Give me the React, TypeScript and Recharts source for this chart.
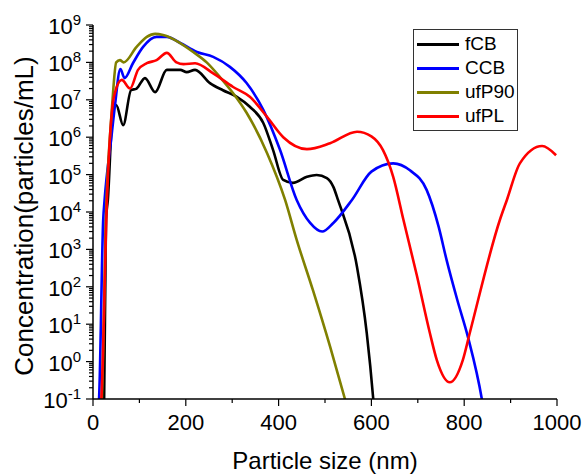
import { LineChart, Line, XAxis, YAxis, Legend } from "recharts";

const fCB = [
  [22, 0.05], [24, 0.1], [28, 6.2e3], [32, 2.1e4], [43, 5.5e6], [50, 7.2e6],
  [65, 2.1e6], [82, 1.8e7], [94, 2.0e7], [112, 3.8e7], [134, 1.6e7],
  [159, 6.3e7], [188, 6.3e7], [202, 5.5e7], [220, 6.3e7], [252, 2.8e7],
  [280, 1.8e7], [310, 1.2e7], [338, 6.5e6], [367, 2.4e6], [388, 4.6e5],
  [410, 7.2e4], [431, 6.0e4], [461, 8.7e4], [482, 9.8e4], [504, 8.1e4],
  [518, 4.7e4], [528, 2.1e4], [569, 340], [590, 5.8], [604, 0.1], [606, 0.05],
];

const CCB = [
  [11, 0.05], [13, 0.1], [22, 6.2e3], [25, 2.1e4], [39, 8.5e5], [47, 6.5e6],
  [59, 6.6e7], [68, 3.8e7], [86, 9.5e7], [108, 2.6e8], [137, 4.8e8],
  [159, 4.8e8], [188, 3.3e8], [224, 1.9e8], [259, 1.4e8], [295, 7.6e7],
  [331, 2.8e7], [367, 5.4e6], [403, 4.6e5], [439, 2.1e4], [468, 5.1e3],
  [494, 3.0e3], [518, 5.1e3], [558, 2.1e4], [600, 1.2e5], [647, 2.0e5],
  [683, 1.3e5], [719, 3.9e4], [745, 4.0e3], [762, 525], [785, 45],
  [808, 4.6], [838, 0.1], [842, 0.05],
];

const ufP90 = [
  [17.5, 0.05], [19, 0.1], [29, 2.1e4], [36, 8.5e5], [41, 6.5e6], [50, 1.0e8],
  [58, 1.15e8], [66, 1.0e8], [94, 2.6e8], [116, 4.8e8], [134, 5.8e8],
  [151, 5.4e8], [188, 3.3e8], [216, 1.9e8], [245, 1.0e8], [274, 4.0e7],
  [302, 1.5e7], [331, 4.5e6], [375, 3.8e5], [414, 2.1e4], [439, 1.8e3],
  [474, 81], [511, 2.5], [543, 0.1], [550, 0.05],
];

const ufPL = [
  [16, 0.05], [18, 0.1], [30, 2.0e4], [43, 8.5e6], [47, 1.5e7], [62, 3.4e7],
  [80, 2.0e7], [97, 6.3e7], [116, 9.5e7], [137, 1.15e8], [159, 1.8e8],
  [180, 1.0e8], [195, 9.0e7], [220, 9.5e7], [259, 5.1e7], [302, 2.2e7],
  [338, 1.2e7], [375, 3.5e6], [410, 1.0e6], [461, 4.8e5], [511, 6.9e5],
  [569, 1.4e6], [600, 1.05e6], [625, 4.5e5], [647, 8.7e4], [669, 6.2e3],
  [698, 200], [726, 5.8], [741, 1.1], [769, 0.28], [797, 1.1], [812, 5.8],
  [877, 6.2e3], [892, 2.1e4], [920, 2.0e5], [968, 5.8e5], [998, 3.3e5],
];

const seriesNames = ["fCB", "CCB", "ufP90", "ufPL"];
const seriesColors = ["#000000", "#0000ff", "#808000", "#ff0000"];
const seriesData = [fCB, CCB, ufP90, ufPL];

const xTicks = [0, 100, 200, 300, 400, 500, 600, 700, 800, 900, 1000];
const yPowers = [-1, 0, 1, 2, 3, 4, 5, 6, 7, 8, 9];

const yTicks: number[] = [];
yPowers.forEach((p) => {
  yTicks.push(Number(Math.pow(10, p).toPrecision(3)));
  if (p < 9) {
    for (let m = 2; m <= 9; m++) yTicks.push(Number((m * Math.pow(10, p)).toPrecision(3)));
  }
});

const FONT = "'Liberation Sans', Arial, sans-serif";

const YTick = (props: any) => {
  const { x, y, payload } = props;
  const p = Math.log10(payload.value);
  const major = Math.abs(p - Math.round(p)) < 1e-6;
  return (
    <g>
      <line x1={x} x2={x - (major ? 7 : 4)} y1={y} y2={y} stroke="#000" strokeWidth={1.2} />
      {major && (
        <text x={x - 12} y={y + 9} textAnchor="end" fontSize={22} fontFamily={FONT} fill="#000">
          10
          <tspan dy={-9} fontSize={15}>{Math.round(p)}</tspan>
        </text>
      )}
    </g>
  );
};

const XTick = (props: any) => {
  const { x, y, payload } = props;
  const major = payload.value % 200 === 0;
  return (
    <g>
      <line x1={x} x2={x} y1={y} y2={y + (major ? 7 : 4)} stroke="#000" strokeWidth={1.2} />
      {major && (
        <text x={x} y={y + 31} textAnchor="middle" fontSize={22} fontFamily={FONT} fill="#000">
          {payload.value}
        </text>
      )}
    </g>
  );
};

const YLabel = (props: any) => {
  const { viewBox } = props;
  const cx = viewBox.x + 33;
  const cy = viewBox.y + viewBox.height / 2 + 4;
  return (
    <text
      x={cx}
      y={cy}
      transform={`rotate(-90, ${cx}, ${cy})`}
      textAnchor="middle"
      fontSize={26}
      fontFamily={FONT}
      fill="#000"
    >
      Concentration(particles/mL)
    </text>
  );
};

const LegendBox = () => (
  <div
    style={{
      border: "1.3px solid #333",
      width: 103,
      padding: "2px 0",
      background: "#fff",
      fontFamily: FONT,
      fontSize: 19,
    }}
  >
    {seriesNames.map((name, i) => (
      <div key={name} style={{ display: "flex", alignItems: "center", height: 24 }}>
        <div style={{ width: 42, height: 3, background: seriesColors[i], marginLeft: 3, marginRight: 6 }} />
        <span>{name}</span>
      </div>
    ))}
  </div>
);

export default function App() {
  return (
    <div style={{ position: "absolute", left: 0, top: 0, background: "#fff" }}>
      <LineChart width={587} height={475} margin={{ top: 25, right: 30, bottom: 0, left: 0 }}>
        <XAxis
          type="number"
          dataKey="x"
          domain={[0, 1000]}
          ticks={xTicks}
          interval={0}
          allowDataOverflow
          height={76}
          tickSize={0}
          tickMargin={0}
          tickLine={false}
          tick={<XTick />}
          axisLine={{ stroke: "#000", strokeWidth: 1.5 }}
          label={{
            value: "Particle size (nm)",
            position: "insideBottom",
            offset: 6,
            style: { fontSize: 24, fontFamily: FONT, fill: "#000" },
          }}
        />
        <YAxis
          type="number"
          scale="log"
          domain={[0.1, 1e9]}
          ticks={yTicks}
          interval={0}
          allowDataOverflow
          width={93}
          tickSize={0}
          tickMargin={0}
          tickLine={false}
          tick={<YTick />}
          axisLine={{ stroke: "#000", strokeWidth: 1.5 }}
          label={<YLabel />}
        />
        <Legend
          layout="vertical"
          align="center"
          verticalAlign="middle"
          content={<LegendBox />}
          wrapperStyle={{ left: 413, top: 29, width: "auto" }}
        />
        {seriesData.map((d, i) => (
          <Line
            key={seriesNames[i]}
            data={d.map(([x, y]) => ({ x, y }))}
            dataKey="y"
            name={seriesNames[i]}
            type="monotone"
            stroke={seriesColors[i]}
            strokeWidth={2.6}
            dot={false}
            isAnimationActive={false}
          />
        ))}
      </LineChart>
    </div>
  );
}
